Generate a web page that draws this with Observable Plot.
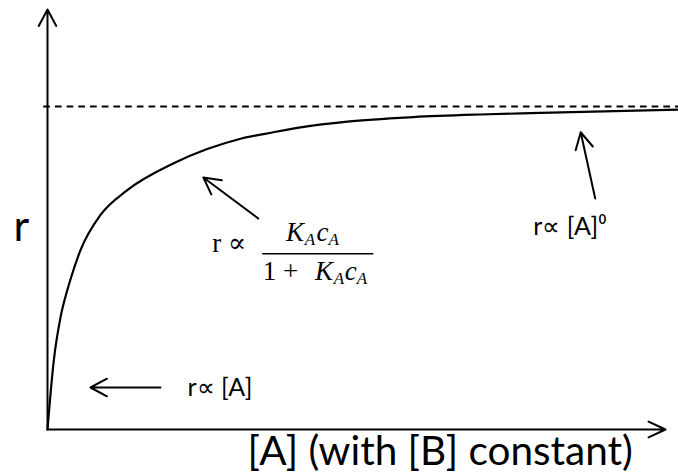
<!DOCTYPE html>
<html><head><meta charset="utf-8">
<script src="https://cdn.jsdelivr.net/npm/d3@7"></script>
<script src="https://cdn.jsdelivr.net/npm/@observablehq/plot@0.6"></script>
<style>body{margin:0;background:#fff}</style>
</head><body><div id="chart"></div>
<script>
// Concentration of A (arbitrary units) and rate r (relative to the asymptote)
const concA = [0, 1.0, 2.06, 3.12, 3.65, 5.23, 8.4, 12.6, 20.0, 25.3, 30.6, 35.8, 40.1, 47.5, 58.0, 68.6, 78.1, 100];
const rate  = [0, 0.214, 0.347, 0.430, 0.465, 0.555, 0.664, 0.740, 0.824, 0.868, 0.900, 0.920, 0.935, 0.953, 0.967, 0.975, 0.980, 0.990];
const asymptote = [1];

const xLabel = "[A] (with [B] constant)";
const yLabel = "r";
const noteTexts = ["r∝ [A]", "r∝ [A]⁰"];

// layout (data coordinates)
const xMax = 100, yMax = 1.3;
const axisArrows = [
  {x1: 0, y1: 0, x2: 0, y2: yMax},
  {x1: 0, y1: 0, x2: 97.94, y2: 0}
];
const noteArrows = [
  {x1: 17.9, y1: 0.130, x2: 6.81, y2: 0.130},
  {x1: 33.4, y1: 0.653, x2: 24.7, y2: 0.780},
  {x1: 86.8, y1: 0.715, x2: 84.5, y2: 0.920}
];
const notePos = [{x: 22.2, y: 0.105}, {x: 77.0, y: 0.601}];
const formula = [
  {t: "r ∝", x: 26.1, y: 0.548, it: false, sub: false},
  {t: "K", x: 37.8, y: 0.585, it: true, sub: false},
  {t: "A", x: 40.75, y: 0.570, it: true, sub: true},
  {t: "c", x: 42.65, y: 0.585, it: true, sub: false},
  {t: "A", x: 44.55, y: 0.570, it: true, sub: true},
  {t: "1 +", x: 34.1, y: 0.464, it: false, sub: false},
  {t: "K", x: 42.4, y: 0.464, it: true, sub: false},
  {t: "A", x: 45.35, y: 0.449, it: true, sub: true},
  {t: "c", x: 47.1, y: 0.464, it: true, sub: false},
  {t: "A", x: 49.0, y: 0.449, it: true, sub: true}
];
const fractionBar = {y: 0.544, x1: 34.1, x2: 51.7};

const curve = concA.map((c, i) => ({c, r: rate[i]}));
const sans = "Lato, 'Open Sans', sans-serif";
const serif = "'Liberation Serif', 'DejaVu Serif', serif";

const chart = Plot.plot({
  width: 678, height: 476,
  marginLeft: 47, marginRight: 0, marginTop: 9, marginBottom: 47,
  x: {domain: [0, xMax], axis: null},
  y: {domain: [0, yMax], axis: null},
  marks: [
    Plot.ruleY(asymptote, {x1: -0.6, x2: xMax, stroke: "black", strokeWidth: 2, strokeDasharray: "6.7,5"}),
    Plot.line(curve, {x: "c", y: "r", curve: "monotone-x", stroke: "black", strokeWidth: 2.2}),
    Plot.arrow(axisArrows.slice(0,1), {x1: "x1", y1: "y1", x2: "x2", y2: "y2", stroke: "black", strokeWidth: 2, headLength: 14, headAngle: 56}),
    Plot.arrow(axisArrows.slice(1), {x1: "x1", y1: "y1", x2: "x2", y2: "y2", stroke: "black", strokeWidth: 2, headLength: 14, headAngle: 50}),
    Plot.arrow(noteArrows, {x1: "x1", y1: "y1", x2: "x2", y2: "y2", stroke: "black", strokeWidth: 2, headLength: 14, headAngle: 56}),
    Plot.text(noteTexts, {x: (d, i) => notePos[i].x, y: (d, i) => notePos[i].y, text: d => d, textAnchor: "start", lineAnchor: "bottom", fontFamily: sans, fontSize: 25, fill: "black"}),
    Plot.text([yLabel], {x: -5.39, y: 0.585, text: d => d, textAnchor: "start", lineAnchor: "bottom", fontFamily: sans, fontSize: 43, fill: "black"}),
    Plot.text([xLabel], {x: 31.7, y: -0.111, text: d => d, textAnchor: "start", lineAnchor: "bottom", fontFamily: sans, fontSize: 40.5, fill: "black"}),
    Plot.ruleY([fractionBar], {y: "y", x1: "x1", x2: "x2", stroke: "black", strokeWidth: 1.6}),
    Plot.text(formula.filter(d => !d.sub && !d.it), {x: "x", y: "y", text: "t", textAnchor: "start", lineAnchor: "bottom", fontFamily: serif, fontSize: 27, fill: "black"}),
    Plot.text(formula.filter(d => !d.sub && d.it), {x: "x", y: "y", text: "t", textAnchor: "start", lineAnchor: "bottom", fontFamily: serif, fontStyle: "italic", fontSize: 27, fill: "black"}),
    Plot.text(formula.filter(d => d.sub), {x: "x", y: "y", text: "t", textAnchor: "start", lineAnchor: "bottom", fontFamily: serif, fontStyle: "italic", fontSize: 17, fill: "black"})
  ]
});
document.getElementById("chart").appendChild(chart);
</script>
</body></html>
